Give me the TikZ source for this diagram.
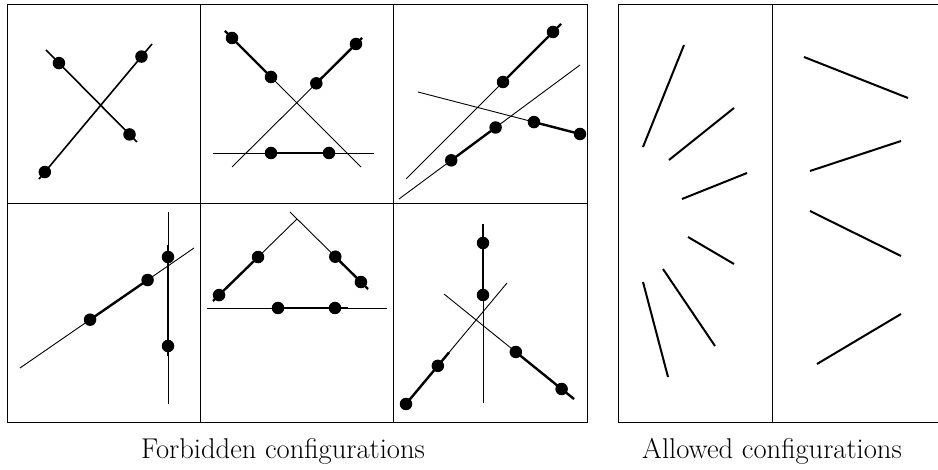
\documentclass[tikz,border=0pt]{standalone}
\usetikzlibrary{calc}
\begin{document}
\begin{tikzpicture}[x=1pt,y=-1pt,
  dot/.style={circle,fill=black,inner sep=0pt,minimum size=12.5pt},
  thinline/.style={line width=0.9pt},
  midline/.style={line width=1.6pt},
  thickline/.style={line width=2.4pt},
  seg/.style={line width=2pt},
  frame/.style={line width=1pt},
  caption/.style={font=\fontsize{28.6}{34}\selectfont, anchor=base, inner sep=0pt}]
\useasboundingbox (0,0) rectangle (938,470);

% frames
\draw[frame] (7,5) rectangle (587,423);
\draw[frame] (200,5) -- (200,423);
\draw[frame] (393,5) -- (393,423);
\draw[frame] (7,204) -- (587,204);
\draw[frame] (938,5) -- (618,5) -- (618,423) -- (938,423);
\draw[frame] (772,5) -- (772,423);

% ---- cell 1
\coordinate (a1) at (39,179); \coordinate (a2) at (152,44);
\coordinate (b1) at (46,50);  \coordinate (b2) at (137,142);
\draw[midline] (a1) -- (a2);
\draw[midline] (b1) -- (b2);
\node[dot] (a3) at ($(a1)!(46,173)!(a2)$) {};
\node[dot] (a4) at ($(a1)!(142,57)!(a2)$) {};
\node[dot] (b3) at ($(b1)!(59,63)!(b2)$) {};
\node[dot] (b4) at ($(b1)!(130,134)!(b2)$) {};

% ---- cell 2
\coordinate (c1) at (225,31); \coordinate (c2) at (361,167);
\coordinate (d1) at (232,167); \coordinate (d2) at (362,38);
\coordinate (e1) at (213,153); \coordinate (e2) at (374,153);
\draw[thinline] (c1) -- (c2);
\draw[thinline] (d1) -- (d2);
\draw[thinline] (e1) -- (e2);
\node[dot] (c3) at ($(c1)!(232,38)!(c2)$) {};
\node[dot] (c4) at ($(c1)!(271,77)!(c2)$) {};
\node[dot] (d3) at ($(d1)!(316,83)!(d2)$) {};
\node[dot] (d4) at ($(d1)!(355,43)!(d2)$) {};
\node[dot] (e3) at (271,153) {};
\node[dot] (e4) at (329,153) {};
\draw[thickline] (c1) -- (c4.center);
\draw[thickline] (d3.center) -- (d2);
\draw[thickline] (e3.center) -- (e4.center);

% ---- cell 3
\coordinate (f1) at (406,179); \coordinate (f2) at (561,24);
\coordinate (g1) at (399,199); \coordinate (g2) at (580,65);
\coordinate (h1) at (418,92);  \coordinate (h2) at (580,134);
\draw[thinline] (f1) -- (f2);
\draw[thinline] (g1) -- (g2);
\draw[thinline] (h1) -- (h2);
\node[dot] (f3) at ($(f1)!(503,82)!(f2)$) {};
\node[dot] (f4) at ($(f1)!(553,32)!(f2)$) {};
\node[dot] (g3) at ($(g1)!(451,160)!(g2)$) {};
\node[dot] (g4) at ($(g1)!(496,128)!(g2)$) {};
\node[dot] (h3) at ($(h1)!(534,122)!(h2)$) {};
\node[dot] (h4) at (h2) {};
\draw[thickline] (f3.center) -- (f2);
\draw[thickline] (g3.center) -- (g4.center);
\draw[thickline] (h3.center) -- (h4.center);

% ---- cell 4
\coordinate (i1) at (20,368); \coordinate (i2) at (194,248);
\coordinate (j1) at (168,212); \coordinate (j2) at (168,404);
\draw[thinline] (i1) -- (i2);
\draw[thinline] (j1) -- (j2);
\node[dot] (i3) at ($(i1)!(91,321)!(i2)$) {};
\node[dot] (i4) at ($(i1)!(149,282)!(i2)$) {};
\node[dot] (j3) at (168,257) {};
\node[dot] (j4) at (168,346) {};
\draw[thickline] (i3.center) -- (i4.center);
\draw[thickline] ($(j3.center)+(0,-12)$) -- ($(j4.center)+(0,10)$);

% ---- cell 5
\coordinate (k1) at (213,301); \coordinate (k2) at (297,219);
\coordinate (l1) at (290,212); \coordinate (l2) at (368,289);
\coordinate (m1) at (207,308); \coordinate (m2) at (387,308);
\draw[thinline] (k1) -- (k2);
\draw[thinline] (l1) -- (l2);
\draw[thinline] (m1) -- (m2);
\node[dot] (k3) at ($(k1)!(219,295)!(k2)$) {};
\node[dot] (k4) at ($(k1)!(258,257)!(k2)$) {};
\node[dot] (l3) at ($(l1)!(335,257)!(l2)$) {};
\node[dot] (l4) at ($(l1)!(361,282)!(l2)$) {};
\node[dot] (m3) at (278,308) {};
\node[dot] (m4) at (335,308) {};
\draw[thickline] (k1) -- (k4.center);
\draw[thickline] (l3.center) -- (l2);
\draw[thickline] (m3.center) -- (348,308);

% ---- cell 6
\coordinate (n1) at (483,224); \coordinate (n2) at (483,403);
\coordinate (o1) at (406,404); \coordinate (o2) at (507,283);
\coordinate (p1) at (444,294); \coordinate (p2) at (574,399);
\draw[thinline] (n1) -- (n2);
\draw[thinline] (o1) -- (o2);
\draw[thinline] (p1) -- (p2);
\node[dot] (n3) at (483,243) {};
\node[dot] (n4) at (483,295) {};
\node[dot] (o3) at (o1) {};
\node[dot] (o4) at ($(o1)!(438,366)!(o2)$) {};
\node[dot] (p3) at ($(p1)!(515,353)!(p2)$) {};
\node[dot] (p4) at ($(p1)!(560,391)!(p2)$) {};
\draw[thickline] (n1) -- (n4.center);
\draw[thickline] (o3.center) -- ($(o3.center)!1.35!(o4.center)$);
\draw[thickline] (p3.center) -- (p2);

% ---- allowed, left
\coordinate (s1a) at (643,147); \coordinate (s1b) at (684,45);
\coordinate (s2a) at (669,160); \coordinate (s2b) at (734,108);
\coordinate (s3a) at (682,199); \coordinate (s3b) at (747,173);
\coordinate (s4a) at (688,237); \coordinate (s4b) at (734,264);
\coordinate (s5a) at (663,269); \coordinate (s5b) at (715,346);
\coordinate (s6a) at (643,282); \coordinate (s6b) at (668,377);
\foreach \s in {1,...,6} \draw[seg] (s\s a) -- (s\s b);

% ---- allowed, right
\coordinate (r1a) at (804,57);  \coordinate (r1b) at (908,98);
\coordinate (r2a) at (810,171); \coordinate (r2b) at (901,141);
\coordinate (r3a) at (810,211); \coordinate (r3b) at (901,256);
\coordinate (r4a) at (817,364); \coordinate (r4b) at (901,314);
\foreach \s in {1,...,4} \draw[seg] (r\s a) -- (r\s b);

% captions
\node[caption] (cap1) at (283,459) {Forbidden configurations};
\node[caption] (cap2) at (772,459) {Allowed configurations};
\end{tikzpicture}
\end{document}
